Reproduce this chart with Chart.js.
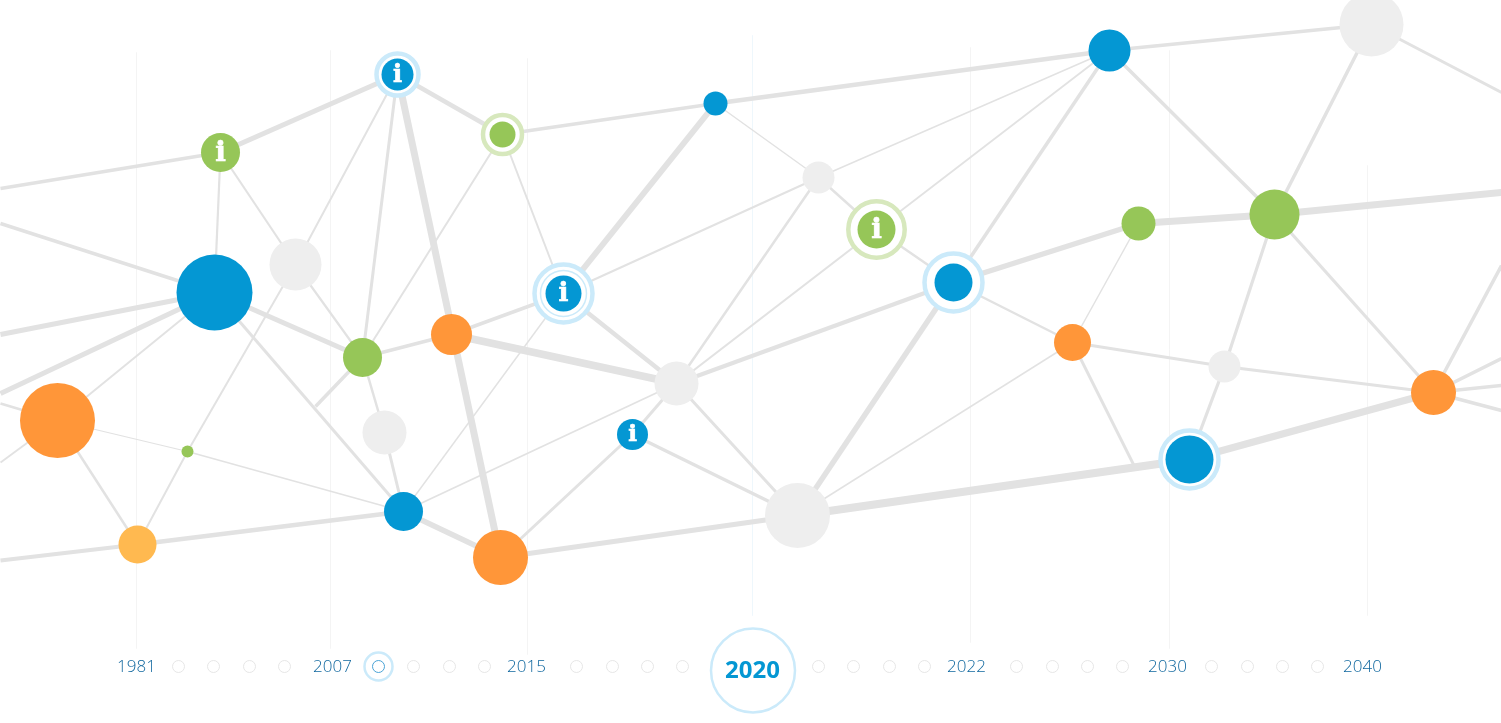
<!DOCTYPE html>
<html>
<head>
<meta charset="utf-8">
<style>
  html, body { margin: 0; padding: 0; background: #fff; }
  #wrap { width: 1501px; height: 723px; }
</style>
<script src="https://cdn.jsdelivr.net/npm/chart.js@4"></script>
</head>
<body>
<div id="wrap"><canvas id="myChart"></canvas></div>
<script>
// network nodes, the last ones (r = 0) are only line ends at the page border
const node_x = [220,397,502,715,818,1109,1371,876,1138,1274,953,563,295,214,362,451,676,1072,1224,1433,57,384,632,187,403,137,500,797,1189,
  0,0,0,0,0,0,0,1501,1501,1501,1501,1501,1501,1134,315]
const node_y = [152,74,134,103,177,50,24,229,223,214,282,293,264,292,357,334,383,342,366,392,420,432,434,451,511,544,557,515,459,
  188,223,334,393,403,462,560,192,92,265,358,385,410,466,406]
const node_r = [19.5,16,13,12,16,21,32,19,17,25,19,18,26,38,19.5,20.5,22,18.5,16,22.5,37.5,22,15.5,6,19.5,19,27.5,32.5,24,
  0,0,0,0,0,0,0,0,0,0,0,0,0,0,0]
const node_group = ['green','blue','green','blue','grey','blue','grey','green','green','green','blue','blue','grey','blue','green','orange','grey','orange','grey','orange','orange','grey','blue','green','blue','yellow','orange','grey','blue',
  'end','end','end','end','end','end','end','end','end','end','end','end','end','end','end']
const info_nodes = [0,1,7,11,22]

const edge_from = [0,0,0,1,1,1,1,2,2,2,3,3,3,4,4,4,7,7,7,7,10,10,10,10,10,8,8,5,5,6,9,9,18,17,18,42,27,28,26,24,24,25,25,23,23,23,20,13,13,12,14,14,43,21,15,15,11,11,16,16,22,22,16,17,
  29,30,31,32,33,34,35,36,37,38,39,40,41]
const edge_to = [1,13,12,2,12,14,26,11,14,3,5,11,4,5,11,16,4,10,5,16,5,16,27,8,17,17,9,9,6,9,19,18,28,18,19,17,28,19,27,25,26,23,20,20,24,12,13,14,24,14,15,21,14,24,11,16,16,24,24,22,26,27,27,27,
  0,13,13,13,20,20,25,9,6,19,19,19,19]
const edge_weight = [5,2.2,2.2,4.5,2,3,7,2,2,3.5,4.5,6,1.5,1.5,2,2.5,2.5,2.5,1.8,2.2,3.5,4,5.5,5.5,2.5,1.5,7,3.5,3.5,3.5,3.2,3.2,3.2,3,3,3,8,7,5,4.5,5.5,2,2.5,1.2,1.5,2,2,5,3,2.2,3.5,2.5,3.5,3,3.5,7.5,4.5,1.5,1.8,3,3,3.5,3,1.5,
  3.5,3.5,5,5,2.5,2,4,7,3,3.5,3.5,3.5,3.5]

// timeline
const year_labels = ['1981','2007','2015','2020','2022','2030','2040']
const year_x = [136,332,526,752,966,1167,1362]
const grid_x = [136,330,527,752,970,1169,1367]
const grid_top = [52,50,58,35,47,50,165]
const grid_bottom = [648,648,654,615,642,648,615]
const step_x = [178,213,249,284,413,449,484,576,612,647,682,818,853,889,924,1016,1052,1087,1122,1211,1247,1282,1317]
const step_y = 666
const current_step_x = 378
const current_year = '2020'

const node_colors = { blue: '#0497d3', green: '#96c658', orange: '#ff9639', yellow: '#ffb950', grey: '#eeeeee', end: '#e2e2e2' }
const ring_blue = '#cbeafa'
const ring_green = '#d7e8bd'
// node index, ring radius, ring width
const rings = [[1,21,4.5,ring_blue],[2,19.5,4.5,ring_green],[7,28.2,4.5,ring_green],[10,29,4.5,ring_blue],[11,29,4.5,ring_blue],[11,23,1.5,ring_blue],[28,29,4.5,ring_blue]]

let datasets = []

// grid
for (let i = 0; i < grid_x.length; i++) {
  datasets.push({
    showLine: true, order: 5,
    data: [{x: grid_x[i], y: grid_top[i]}, {x: grid_x[i], y: grid_bottom[i]}],
    borderColor: year_labels[i] === current_year ? '#eef7fc' : '#f4f4f4',
    borderWidth: 1, pointRadius: 0
  })
}

// edges
for (let i = 0; i < edge_from.length; i++) {
  let a = edge_from[i], b = edge_to[i]
  datasets.push({
    showLine: true, order: 4,
    data: [{x: node_x[a], y: node_y[a]}, {x: node_x[b], y: node_y[b]}],
    borderColor: '#e2e2e2', borderWidth: edge_weight[i], pointRadius: 0
  })
}

// rings around the selected nodes
rings.forEach((ring, i) => {
  datasets.push({
    order: 3 - i * 0.01,
    data: [{x: node_x[ring[0]], y: node_y[ring[0]]}],
    pointRadius: ring[1], pointBorderWidth: ring[2],
    pointBorderColor: ring[3], pointBackgroundColor: '#fff'
  })
})

// nodes
Object.keys(node_colors).forEach(group => {
  let idx = node_group.map((g, i) => g === group ? i : -1).filter(i => i >= 0)
  datasets.push({
    order: 2,
    data: idx.map(i => ({x: node_x[i], y: node_y[i]})),
    pointRadius: idx.map(i => node_r[i]),
    pointBackgroundColor: node_colors[group],
    pointBorderWidth: 0
  })
})

// timeline dots
datasets.push({
  order: 1,
  data: [{x: 752.5, y: 670}],
  pointRadius: 42, pointBorderWidth: 2.5, pointBorderColor: ring_blue, pointBackgroundColor: '#fff'
})
datasets.push({
  order: 1,
  data: [{x: current_step_x, y: step_y}],
  pointRadius: 14, pointBorderWidth: 2.5, pointBorderColor: ring_blue, pointBackgroundColor: '#fff'
})
datasets.push({
  order: 0,
  data: step_x.concat(current_step_x).map(x => ({x: x, y: step_y})),
  pointRadius: 6, pointBorderWidth: 1,
  pointBorderColor: step_x.map(() => '#e6e6e6').concat('#4aa3d6'),
  pointBackgroundColor: '#fff'
})

const info_marks = {
  id: 'info_marks',
  afterDatasetsDraw(chart) {
    const ctx = chart.ctx
    ctx.save()
    ctx.fillStyle = '#fff'
    ctx.strokeStyle = '#fff'
    ctx.lineWidth = 0.7
    ctx.textAlign = 'center'
    ctx.textBaseline = 'middle'
    info_nodes.forEach(i => {
      ctx.font = `bold ${Math.round(node_r[i] * 1.3 + 3)}px "DejaVu Serif"`
      let px = chart.scales.x.getPixelForValue(node_x[i]), py = chart.scales.y.getPixelForValue(node_y[i]) + 1
      ctx.fillText('i', px, py)
      ctx.strokeText('i', px, py)
    })
    ctx.restore()
  }
}

const config = {
  type: 'scatter',
  data: { datasets: datasets },
  plugins: [info_marks],
  options: {
    responsive: true,
    maintainAspectRatio: false,
    animation: false,
    events: [],
    layout: { padding: 0, autoPadding: false },
    plugins: { legend: { display: false }, tooltip: { enabled: false } },
    scales: {
      x: {
        type: 'linear', min: -0.5, max: 1500.5,
        position: { y: 656 },
        border: { display: false },
        grid: { display: false, drawTicks: false },
        afterBuildTicks: axis => { axis.ticks = year_x.map(v => ({value: v})) },
        ticks: {
          z: 1,
          autoSkip: false, maxRotation: 0, padding: 0,
          callback: value => year_labels[year_x.indexOf(value)],
          color: c => c.tick && year_labels[year_x.indexOf(c.tick.value)] === current_year ? '#0497d3' : '#11689f',
          font: c => c.tick && year_labels[year_x.indexOf(c.tick.value)] === current_year
            ? { family: 'Open Sans', size: 24, weight: 'bold' }
            : { family: 'Open Sans', size: 17, weight: '300' }
        }
      },
      y: { type: 'linear', min: -0.5, max: 722.5, reverse: true, display: false }
    }
  }
}

const myChart = new Chart(document.getElementById('myChart'), config)
</script>
</body>
</html>
